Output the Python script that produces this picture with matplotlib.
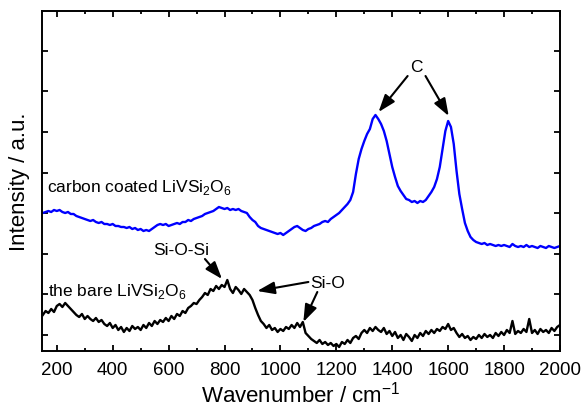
import numpy as np
import matplotlib
matplotlib.use("Agg")
import matplotlib.pyplot as plt
from matplotlib.ticker import MultipleLocator, NullFormatter

plt.rcParams['font.family'] = ['Liberation Sans', 'DejaVu Sans']
plt.rcParams['mathtext.fontset'] = 'custom'
plt.rcParams['mathtext.rm'] = 'Liberation Sans'

# Wavenumber grid (cm^-1)
wavenumber = list(range(150, 2001, 10))

# Carbon coated LiVSi2O6 (a.u.)
carbon_coated = [
    186, 187, 188, 187, 189, 188, 189, 187, 186, 187,
    185, 185, 183, 182, 181, 180, 179, 178, 179, 177,
    176, 177, 175, 175, 174, 175, 173, 173, 172, 172,
    171, 172, 170, 171, 169, 170, 168, 169, 168, 170,
    172, 174, 175, 174, 175, 173, 174, 175, 176, 175,
    177, 177, 179, 178, 180, 181, 182, 183, 185, 186,
    187, 188, 190, 192, 191, 190, 191, 189, 190, 189,
    190, 188, 187, 186, 182, 179, 177, 173, 171, 170,
    169, 168, 167, 166, 165, 166, 164, 166, 168, 170,
    172, 173, 171, 169, 168, 170, 171, 173, 174, 175,
    177, 178, 177, 180, 182, 184, 186, 189, 192, 195,
    199, 207, 225, 240, 250, 258, 265, 270, 280, 284,
    280, 275, 268, 258, 245, 232, 222, 213, 208, 204,
    200, 199, 197, 198, 196, 198, 197, 199, 203, 207,
    212, 220, 232, 250, 268, 278, 272, 255, 228, 205,
    190, 176, 168, 162, 159, 157, 156, 155, 156, 154,
    155, 154, 153, 154, 153, 154, 153, 152, 155, 153,
    152, 153, 152, 154, 152, 153, 152, 151, 153, 152,
    151, 153, 152, 151, 152, 153,
]

# Bare LiVSi2O6 (a.u.)
bare = [
    84, 88, 86, 90, 87, 93, 95, 92, 96, 93,
    90, 87, 84, 82, 85, 80, 83, 80, 78, 81,
    77, 79, 75, 73, 76, 71, 74, 69, 72, 67,
    71, 68, 73, 70, 72, 69, 74, 71, 76, 73,
    78, 75, 79, 77, 81, 78, 83, 80, 85, 83,
    88, 86, 91, 93, 96, 95, 99, 102, 106, 104,
    110, 108, 113, 110, 114, 112, 119, 110, 106, 112,
    109, 105, 110, 107, 104, 99, 91, 84, 78, 75,
    71, 74, 69, 71, 67, 70, 68, 72, 70, 74,
    71, 76, 72, 77, 66, 63, 60, 58, 56, 59,
    55, 57, 54, 56, 53, 55, 52, 57, 55, 59,
    56, 61, 63, 60, 66, 69, 66, 71, 68, 72,
    69, 67, 71, 65, 68, 63, 67, 61, 64, 59,
    65, 62, 58, 64, 61, 66, 63, 68, 65, 69,
    66, 70, 68, 72, 70, 75, 69, 71, 66, 62,
    65, 61, 63, 59, 62, 60, 64, 61, 65, 62,
    64, 61, 66, 63, 67, 64, 69, 66, 78, 65,
    68, 66, 70, 67, 80, 66, 69, 65, 70, 67,
    69, 66, 71, 68, 72, 74,
]

x_major = list(range(200, 2001, 200))

fig = plt.figure(figsize=(5.83, 4.10), dpi=100)
ax = fig.add_axes([0.072, 0.1415, 0.8885, 0.8292])

ax.plot(wavenumber, carbon_coated, color='#0000ff', lw=1.7)
ax.plot(wavenumber, bare, color='black', lw=1.7)

ax.set_xlim(147, 2000)
ax.set_ylim(48, 388)
ax.set_xticks(x_major)
ax.set_xticklabels([str(v) for v in x_major], fontsize=13.5)
ax.xaxis.set_minor_locator(MultipleLocator(100))
ax.set_yticks(np.arange(64, 360, 40.6))
ax.yaxis.set_major_formatter(NullFormatter())
ax.tick_params(which='both', direction='in', top=True, right=True, width=1.3)
ax.tick_params(which='major', length=4.5)
ax.tick_params(which='minor', length=2.5)
ax.tick_params(axis='x', pad=7)
for s in ax.spines.values():
    s.set_linewidth(1.4)

ax.set_xlabel('Wavenumber / cm$^\\mathregular{-1}$', fontsize=16, labelpad=2)
ax.set_ylabel('Intensity / a.u.', fontsize=16, labelpad=5)

ax.text(164, 208, 'carbon coated LiVSi$_\\mathregular{2}$O$_\\mathregular{6}$', fontsize=12.5, va='baseline')
ax.text(168, 104, 'the bare LiVSi$_\\mathregular{2}$O$_\\mathregular{6}$', fontsize=12.5, va='baseline')

ap = dict(arrowstyle='-|>,head_length=0.7,head_width=0.25', color='black', lw=1.5,
          mutation_scale=15, shrinkA=0, shrinkB=0)
ax.text(544, 145, 'Si-O-Si', fontsize=12.5, va='baseline')
ax.annotate('', xy=(791, 120), xytext=(730, 140), arrowprops=ap)
ax.text(1107, 112, 'Si-O', fontsize=12.5, va='baseline')
ax.annotate('', xy=(917, 108), xytext=(1100, 117), arrowprops=ap)
ax.annotate('', xy=(1082, 77), xytext=(1132, 107), arrowprops=ap)
ax.text(1487, 333, 'C', fontsize=12.5, ha='center', va='center')
ax.annotate('', xy=(1351, 287), xytext=(1455, 323), arrowprops=ap)
ax.annotate('', xy=(1602, 283), xytext=(1519, 323), arrowprops=ap)

fig.savefig('out.png', dpi=100)
